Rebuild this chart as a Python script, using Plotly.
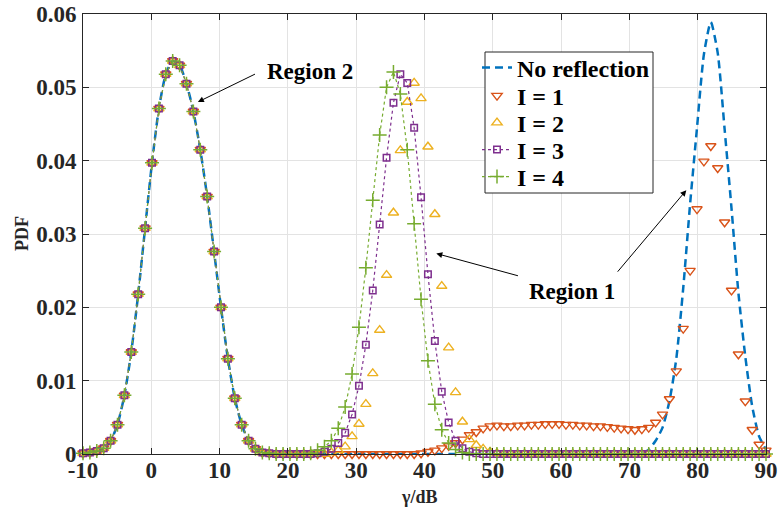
import numpy as np
import plotly.graph_objects as go

GAMMA_DB = np.linspace(-10, 90, 100)

# Region 2 (shared by all curves), samples k0..k28
REGION2 = [0.0001, 0.0002, 0.0004, 0.0008, 0.0018, 0.0040, 0.0080, 0.0139, 0.0218, 0.0308,
           0.0397, 0.0471, 0.0518, 0.0536, 0.0530, 0.0505, 0.0467, 0.0415, 0.0351, 0.0276,
           0.0200, 0.0130, 0.0076, 0.0040, 0.0018, 0.0007, 0.0002, 0.0001, 0.0000]

# tails, samples k29..k99
NO_REFL_TAIL = [0.0, 0.0, 0.0, 0.0, 0.0, 0.0, 0.0, 0.0, 0.0, 0.0,
                0.0, 0.0, 0.0, 0.0, 0.0, 0.0, 0.0, 0.0, 0.0, 0.0,
                0.0, 0.0, 0.0, 0.0, 0.0, 0.0, 0.0, 0.0, 0.0, 0.0,
                0.0, 0.0, 0.0, 0.0, 0.0, 0.0, 0.0, 0.0, 0.0, 0.0,
                0.0, 0.0, 0.0, 0.0, 0.0, 0.0, 0.0, 0.0, 0.0, 0.0,
                0.0, 0.0,
                0.0001, 0.0006, 0.0018, 0.0036, 0.0072, 0.0130, 0.0226, 0.0341, 0.0445, 0.0545,
                0.0589, 0.0547, 0.0443, 0.0335, 0.0220, 0.0133, 0.0065, 0.0024, 0.0006]

I1_TAIL = [0.0, 0.0, 0.0, 0.0, 0.0, 0.0, 0.0, 0.0, 0.0, 0.0,
           0.0, 0.0, 0.0, 0.0, 0.0, 0.0, 0.0, 0.0, 0.0, 0.0,
           0.0001, 0.0003, 0.0005, 0.0008, 0.0011, 0.0015, 0.0020, 0.0026, 0.0030, 0.0035,
           0.0038, 0.0039, 0.0038, 0.0038, 0.0039, 0.0039, 0.0040, 0.0040, 0.0041, 0.0041,
           0.0041, 0.0040, 0.0040, 0.0039, 0.0039, 0.0038, 0.0038, 0.0037, 0.0036, 0.0035,
           0.0034, 0.0033, 0.0034, 0.0036, 0.0043, 0.0054, 0.0075, 0.0113, 0.0171, 0.0250,
           0.0334, 0.0399, 0.0420, 0.0390, 0.0316, 0.0223, 0.0136, 0.0072, 0.0033, 0.0013,
           0.0005]

I2_TAIL = [0.0, 0.0, 0.0, 0.0, 0.0, 0.0, 0.0,
           0.0002, 0.0005, 0.0010, 0.0024, 0.0041, 0.0068, 0.0110, 0.0169, 0.0244, 0.0329,
           0.0414, 0.0480, 0.0506, 0.0485, 0.0419, 0.0327, 0.0229, 0.0145, 0.0084, 0.0044,
           0.0020, 0.0012, 0.0007, 0.0003, 0.0001,
           0.0, 0.0, 0.0, 0.0, 0.0, 0.0, 0.0, 0.0, 0.0, 0.0,
           0.0, 0.0, 0.0, 0.0, 0.0, 0.0, 0.0, 0.0, 0.0, 0.0,
           0.0, 0.0, 0.0, 0.0, 0.0, 0.0, 0.0, 0.0, 0.0, 0.0,
           0.0, 0.0, 0.0, 0.0, 0.0, 0.0, 0.0, 0.0, 0.0]

I3_TAIL = [0.0, 0.0, 0.0, 0.0, 0.0,
           0.0001, 0.0003, 0.0007, 0.0015, 0.0029, 0.0054, 0.0093, 0.0149, 0.0223, 0.0313,
           0.0404, 0.0479, 0.0518, 0.0506, 0.0445, 0.0350, 0.0245, 0.0154, 0.0085, 0.0043,
           0.0018, 0.0008, 0.0003, 0.0001,
           0.0, 0.0, 0.0, 0.0, 0.0, 0.0, 0.0, 0.0, 0.0, 0.0,
           0.0, 0.0, 0.0, 0.0, 0.0, 0.0, 0.0, 0.0, 0.0, 0.0,
           0.0, 0.0, 0.0, 0.0, 0.0, 0.0, 0.0, 0.0, 0.0, 0.0,
           0.0, 0.0, 0.0, 0.0, 0.0, 0.0, 0.0, 0.0, 0.0, 0.0,
           0.0, 0.0]

I4_TAIL = [0.0, 0.0, 0.0, 0.0,
           0.0001, 0.0005, 0.0010, 0.0018, 0.0035, 0.0064, 0.0109, 0.0173, 0.0254, 0.0346,
           0.0435, 0.0500, 0.0521, 0.0491, 0.0415, 0.0314, 0.0211, 0.0127, 0.0068, 0.0033,
           0.0015, 0.0006, 0.0002,
           0.0, 0.0, 0.0, 0.0, 0.0, 0.0, 0.0, 0.0, 0.0, 0.0,
           0.0, 0.0, 0.0, 0.0, 0.0, 0.0, 0.0, 0.0, 0.0, 0.0,
           0.0, 0.0, 0.0, 0.0, 0.0, 0.0, 0.0, 0.0, 0.0, 0.0,
           0.0, 0.0, 0.0, 0.0, 0.0, 0.0, 0.0, 0.0, 0.0, 0.0,
           0.0, 0.0, 0.0, 0.0]

NO_REFL = REGION2 + NO_REFL_TAIL
I1 = REGION2 + I1_TAIL
I2 = REGION2 + I2_TAIL
I3 = REGION2 + I3_TAIL
I4 = REGION2 + I4_TAIL

SERIES_NAMES = ["No reflection", "I = 1", "I = 2", "I = 3", "I = 4"]
X_TICKS = [-10, 0, 10, 20, 30, 40, 50, 60, 70, 80, 90]
Y_TICKS = [0, 0.01, 0.02, 0.03, 0.04, 0.05, 0.06]
Y_TICK_TEXT = ["0", "0.01", "0.02", "0.03", "0.04", "0.05", "0.06"]

BLUE, ORANGE, YELLOW, PURPLE, GREEN = "#0072BD", "#D95319", "#EDB120", "#7E2F8E", "#77AC30"
FONT = "Liberation Serif, Times New Roman, serif"
AX = "#262626"

# plot-area geometry (pixels)
W, H = 782, 516
ML, MR, MT, MB = 83, 16, 14, 62
PW, PH = W - ML - MR, H - MT - MB


def px_x(p):
    return (p - ML) / PW


def px_y(p):
    return (H - MB - p) / PH


fig = go.Figure()
fig.add_trace(go.Scatter(x=GAMMA_DB, y=NO_REFL, name=SERIES_NAMES[0], mode="lines",
                         line=dict(color=BLUE, width=2.5, dash="8px,5px", shape="spline", smoothing=0.6),
                         legend="legend"))
fig.add_trace(go.Scatter(x=GAMMA_DB, y=I1, name=SERIES_NAMES[1], mode="markers",
                         marker=dict(symbol="triangle-down-open", size=9, color=ORANGE, line=dict(width=1.4, color=ORANGE)),
                         cliponaxis=False, legend="legend2"))
fig.add_trace(go.Scatter(x=GAMMA_DB, y=I2, name=SERIES_NAMES[2], mode="markers",
                         marker=dict(symbol="triangle-up-open", size=9, color=YELLOW, line=dict(width=1.4, color=YELLOW)),
                         cliponaxis=False, legend="legend3"))
fig.add_trace(go.Scatter(x=GAMMA_DB, y=I3, name=SERIES_NAMES[3], mode="lines+markers",
                         line=dict(color=PURPLE, width=1.2, dash="dot"),
                         marker=dict(symbol="square-open", size=6.5, color=PURPLE, line=dict(width=1.5, color=PURPLE)),
                         cliponaxis=False, legend="legend4"))
fig.add_trace(go.Scatter(x=GAMMA_DB, y=I4, name=SERIES_NAMES[4], mode="lines+markers",
                         line=dict(color=GREEN, width=1.2, dash="dot"),
                         marker=dict(symbol="cross-thin-open", size=10, color=GREEN, line=dict(width=1.5, color=GREEN)),
                         cliponaxis=False, legend="legend5"))

ann_font = dict(family=FONT, size=23, color="black", weight="bold")
# Region 2
fig.add_annotation(x=6.82, y=0.0480, ax=15.4, ay=0.0519, axref="x", ayref="y", xref="x", yref="y",
                   text="", showarrow=True, arrowhead=2, arrowsize=1.2, arrowwidth=1, arrowcolor="black")
fig.add_annotation(x=23.3, y=0.0521, xref="x", yref="y", text="Region 2", showarrow=False, font=ann_font,
                   xanchor="center", yanchor="middle")
# Region 1
fig.add_annotation(x=41.73, y=0.02734, ax=53.9, ay=0.02425, axref="x", ayref="y", xref="x", yref="y",
                   text="", showarrow=True, arrowhead=2, arrowsize=1.2, arrowwidth=1, arrowcolor="black")
fig.add_annotation(x=78.33, y=0.03597, ax=68.1, ay=0.02466, axref="x", ayref="y", xref="x", yref="y",
                   text="", showarrow=True, arrowhead=2, arrowsize=1.2, arrowwidth=1, arrowcolor="black")
fig.add_annotation(x=61.6, y=0.0222, xref="x", yref="y", text="Region 1", showarrow=False, font=ann_font,
                   xanchor="center", yanchor="middle")

# axis titles
title_font = dict(family=FONT, size=18, color=AX, weight="bold")
fig.add_annotation(x=px_x(419), y=px_y(497), xref="paper", yref="paper", text="γ/dB",
                   showarrow=False, font=title_font, xanchor="center", yanchor="middle")
fig.add_annotation(x=px_x(22), y=0.5, xref="paper", yref="paper", text="PDF", textangle=-90,
                   showarrow=False, font=title_font, xanchor="center", yanchor="middle")

# legend box
fig.add_shape(type="rect", xref="paper", yref="paper",
              x0=px_x(485), x1=px_x(653), y0=px_y(193), y1=px_y(52),
              line=dict(color=AX, width=1), fillcolor="white", layer="above")

leg_font = dict(family=FONT, size=24, color="black", weight="bold")
rows = [68, 96, 123, 150, 177]
legends = {}
for i, r in enumerate(rows):
    key = "legend" if i == 0 else f"legend{i + 1}"
    legends[key] = dict(x=px_x(477), y=px_y(r), xanchor="left", yanchor="middle",
                        bgcolor="rgba(0,0,0,0)", borderwidth=0, font=leg_font,
                        itemwidth=30, tracegroupgap=0)

tick_font = dict(family=FONT, size=23, color=AX, weight="bold")
fig.update_layout(
    width=W, height=H,
    margin=dict(l=ML, r=MR, t=MT, b=MB),
    paper_bgcolor="white", plot_bgcolor="white",
    showlegend=True,
    xaxis=dict(range=[-10, 90], tickvals=X_TICKS, ticktext=[str(v) for v in X_TICKS],
               showgrid=True, gridcolor="#e3e3e3", gridwidth=1, automargin=False,
               showline=True, linecolor=AX, linewidth=1, mirror="ticks",
               ticks="inside", ticklen=6, tickcolor=AX, tickfont=tick_font, zeroline=False,
               ticklabelstandoff=-5),
    yaxis=dict(range=[0, 0.06], tickvals=Y_TICKS, ticktext=Y_TICK_TEXT,
               showgrid=True, gridcolor="#e3e3e3", gridwidth=1, automargin=False,
               showline=True, linecolor=AX, linewidth=1, mirror="ticks",
               ticks="inside", ticklen=6, tickcolor=AX, tickfont=tick_font, zeroline=False,
               ticklabelstandoff=1),
    **legends,
)

fig.write_html("out.html", config={"displayModeBar": False},
               post_script="document.body.style.margin='0';document.body.style.overflow='hidden';")
